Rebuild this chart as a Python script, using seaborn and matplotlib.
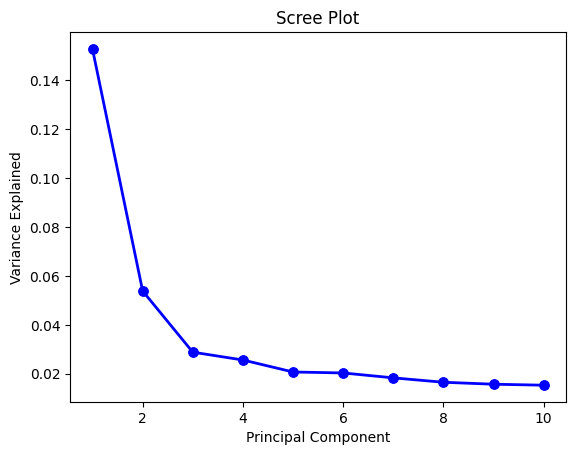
import matplotlib
matplotlib.use("Agg")
import matplotlib.pyplot as plt
import seaborn as sns

components = [1, 2, 3, 4, 5, 6, 7, 8, 9, 10]
variance = [0.1527, 0.0539, 0.0289, 0.0257, 0.0208, 0.0204, 0.0184, 0.0166, 0.0158, 0.0154]

fig, ax = plt.subplots(figsize=(5.76, 4.55), dpi=100)
fig.subplots_adjust(left=0.1215, right=0.983, top=0.9286, bottom=0.1165)

sns.lineplot(x=components, y=variance, marker="o", color="blue", linewidth=2,
             markersize=7, markeredgecolor="blue", ax=ax)
ax.set_title("Scree Plot")
ax.set_xlabel("Principal Component")
ax.set_ylabel("Variance Explained")

fig.savefig("out.png")
